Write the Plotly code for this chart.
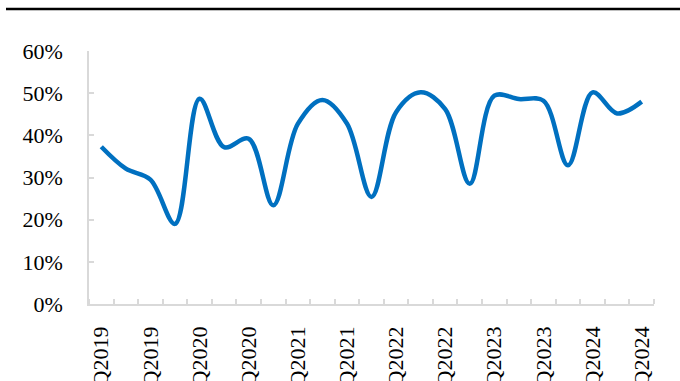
import plotly.graph_objects as go

# Quarterly ratio, 1Q2019 - 3Q2024
quarters = [
    "1Q2019", "2Q2019", "3Q2019", "4Q2019",
    "1Q2020", "2Q2020", "3Q2020", "4Q2020",
    "1Q2021", "2Q2021", "3Q2021", "4Q2021",
    "1Q2022", "2Q2022", "3Q2022", "4Q2022",
    "1Q2023", "2Q2023", "3Q2023", "4Q2023",
    "1Q2024", "2Q2024", "3Q2024",
]
ratio = [
    0.373, 0.321, 0.295, 0.190,
    0.487, 0.372, 0.392, 0.234,
    0.427, 0.484, 0.428, 0.254,
    0.455, 0.502, 0.462, 0.285,
    0.494, 0.486, 0.482, 0.329,
    0.502, 0.452, 0.480,
]
y_ticks = [0, 0.1, 0.2, 0.3, 0.4, 0.5, 0.6]
y_tick_text = ["0%", "10%", "20%", "30%", "40%", "50%", "60%"]

idx = list(range(len(quarters)))
label_idx = idx[::2]
label_text = [quarters[i] for i in label_idx]
boundaries = [i - 0.5 for i in range(len(quarters) + 1)]

font_family = "Liberation Serif, Times New Roman, serif"
axis_grey = "#d9d9d9"

W, H = 680, 381
M_L, M_R, M_T, M_B = 89, 26, 51, 77
plot_h = H - M_T - M_B
plot_w = W - M_L - M_R

fig = go.Figure()
fig.add_trace(go.Scatter(
    x=idx, y=ratio, mode="lines",
    line=dict(color="#0070C0", width=4.5, shape="spline", smoothing=1.0),
    hoverinfo="skip", showlegend=False,
))

# header rule above the chart
rule_y = (H - M_B - 9) / plot_h
fig.add_shape(type="line", xref="paper", yref="paper",
              x0=(6 - M_L) / plot_w, x1=(W - M_L) / plot_w,
              y0=rule_y, y1=rule_y,
              line=dict(color="black", width=2.5))

fig.update_layout(
    width=W, height=H,
    margin=dict(l=M_L, r=M_R, t=M_T, b=M_B, autoexpand=False),
    paper_bgcolor="white", plot_bgcolor="white",
    font=dict(family=font_family, size=22, color="black"),
    xaxis=dict(
        range=[-0.5, len(quarters) - 0.5], automargin=False,
        tickmode="array", tickvals=label_idx, ticktext=label_text,
        tickangle=-90, ticks="", showgrid=False, zeroline=False,
        showline=True, linecolor=axis_grey, linewidth=1.5,
        ticklabelstandoff=12,
        minor=dict(tickmode="array", tickvals=boundaries, ticks="inside",
                   ticklen=5, tickcolor=axis_grey, tickwidth=1.5, showgrid=False),
    ),
    yaxis=dict(
        range=[0, 0.6], automargin=False,
        tickmode="array", tickvals=y_ticks, ticktext=y_tick_text,
        ticks="inside", ticklen=5, tickcolor=axis_grey, tickwidth=1.5,
        showgrid=False, zeroline=False,
        showline=True, linecolor=axis_grey, linewidth=1.5,
        ticklabelstandoff=20,
    ),
)

fig.write_html("out.html")
